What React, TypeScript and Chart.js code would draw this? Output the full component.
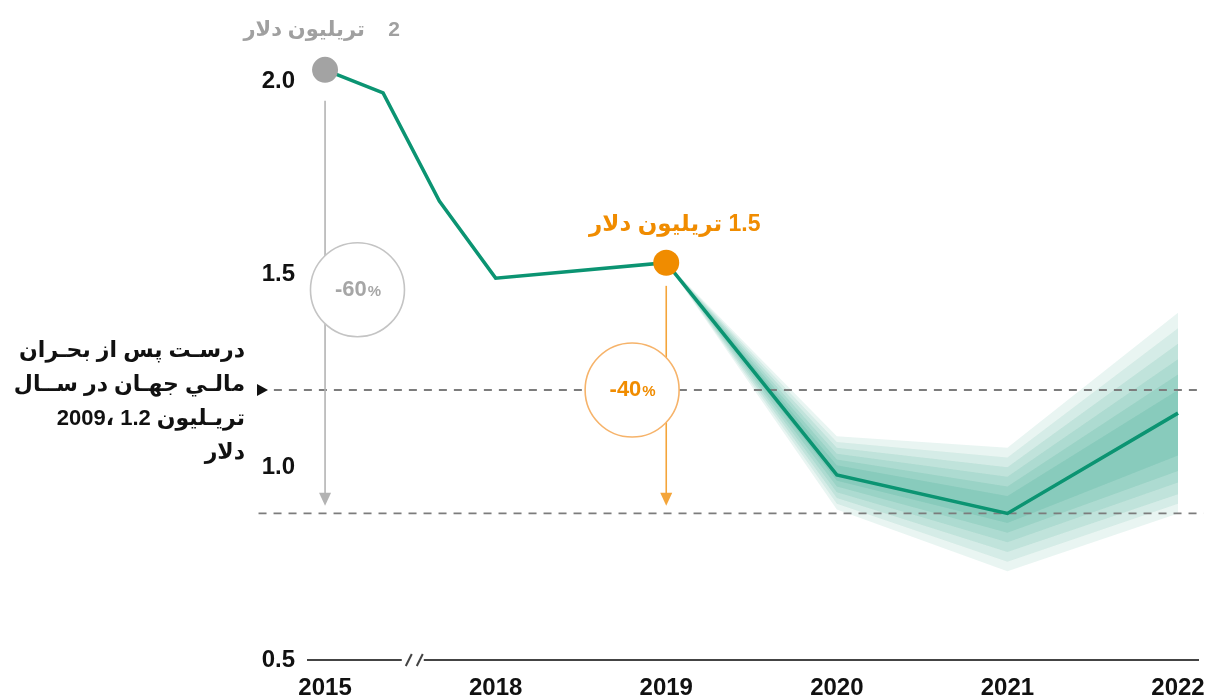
import { useEffect, useRef } from "react";
import { Chart, registerables } from "chart.js";
Chart.register(...registerables);

// ---- data ----
const tickPositions = [0, 1, 2, 3, 4, 5];
const tickYears = ["2015", "2018", "2019", "2020", "2021", "2022"];
const yTickValues = [0.5, 1.0, 1.5, 2.0];

const lineX = [0, 0.34, 0.67, 1, 2, 3, 4, 5];
const lineY = [2.03, 1.97, 1.69, 1.49, 1.53, 0.98, 0.88, 1.14];

const fanX = [2, 3, 4, 5];
const fanUpper1 = [1.53, 1.08, 1.05, 1.40];
const fanLower1 = [1.53, 0.89, 0.73, 0.88];
const fanUpper2 = [1.53, 1.065, 1.025, 1.36];
const fanLower2 = [1.53, 0.905, 0.755, 0.905];
const fanUpper3 = [1.53, 1.05, 1.0, 1.32];
const fanLower3 = [1.53, 0.92, 0.78, 0.93];
const fanUpper4 = [1.53, 1.035, 0.975, 1.28];
const fanLower4 = [1.53, 0.935, 0.805, 0.96];
const fanUpper5 = [1.53, 1.02, 0.95, 1.24];
const fanLower5 = [1.53, 0.95, 0.83, 0.99];
const fanUpper6 = [1.53, 1.005, 0.925, 1.2];
const fanLower6 = [1.53, 0.965, 0.855, 1.03];

const crisisLevel = 1.2;
const floorLevel = 0.88;
const startPoint = { x: 0, y: 2.03 };
const peakPoint = { x: 2, y: 1.53 };

const labelStart = "2    تريليون دلار";
const labelPeak = "1.5 تريليون دلار";
const pctStart = "-60";
const pctPeak = "-40";
const noteLine1 = "درسـت پس از بحـران";
const noteLine2 = "مالـي جهـان در ســال";
const noteLine3Word = "تريـليون";
const noteLine3Nums = "2009، 1.2";
const noteLine4 = "دلار";

const GREEN = "#0b9472";
const ORANGE = "#f08c00";
const GRAY = "#a3a3a3";
const FONT = "'Liberation Sans', Arial, 'DejaVu Sans', sans-serif";

const pts = (xs: number[], ys: number[]) => xs.map((x, i) => ({ x, y: ys[i] }));

export default function App() {
  const ref = useRef<HTMLCanvasElement | null>(null);
  useEffect(() => {
    document.body.style.margin = "0";
    const canvas = ref.current!;
    const fanFill = (a: number) => `rgba(11,148,114,${a})`;
    const layers = [
      [fanUpper1, fanLower1, 0.09],
      [fanUpper2, fanLower2, 0.09],
      [fanUpper3, fanLower3, 0.1],
      [fanUpper4, fanLower4, 0.1],
      [fanUpper5, fanLower5, 0.11],
      [fanUpper6, fanLower6, 0.12],
    ] as [number[], number[], number][];
    const datasets: any[] = [];
    layers.forEach(([up, lo, a]) => {
      datasets.push({
        data: pts(fanX, up), borderWidth: 0, borderColor: "rgba(0,0,0,0)", pointRadius: 0, fill: "+1",
        showLine: true, backgroundColor: fanFill(a), order: 10,
      });
      datasets.push({
        data: pts(fanX, lo), borderWidth: 0, borderColor: "rgba(0,0,0,0)", pointRadius: 0, fill: false,
        showLine: true, order: 10,
      });
    });
    datasets.push({
      data: [{ x: -0.3, y: crisisLevel }, { x: 5.15, y: crisisLevel }],
      borderColor: "#7c7c7c", borderWidth: 1.8, borderDash: [8, 7], pointRadius: 0,
      showLine: true, fill: false, clip: false, order: 5,
    });
    datasets.push({
      data: [{ x: -0.39, y: floorLevel }, { x: 5.15, y: floorLevel }],
      borderColor: "#7c7c7c", borderWidth: 1.8, borderDash: [8, 7], pointRadius: 0,
      showLine: true, fill: false, clip: false, order: 5,
    });
    datasets.push({
      data: pts(lineX, lineY), borderColor: GREEN, borderWidth: 3.5, pointRadius: 0,
      showLine: true, fill: false, tension: 0, order: 3, clip: false,
    });
    datasets.push({
      data: [startPoint], pointRadius: 13, pointBackgroundColor: GRAY,
      pointBorderWidth: 0, showLine: false, order: 1, clip: false,
    });
    datasets.push({
      data: [peakPoint], pointRadius: 13, pointBackgroundColor: ORANGE,
      pointBorderWidth: 0, showLine: false, order: 1, clip: false,
    });

    const annot = {
      id: "annot",
      afterDraw(chart: any) {
        const { ctx, scales } = chart;
        const x = scales.x, y = scales.y;
        const bottom = chart.chartArea.bottom;
        ctx.save();
        // axis break
        const bx = x.getPixelForValue(0.52);
        ctx.fillStyle = "#fff";
        ctx.fillRect(bx - 12, bottom - 4, 22, 8);
        ctx.strokeStyle = "#444";
        ctx.lineWidth = 2;
        [-8, 3].forEach((d) => {
          ctx.beginPath();
          ctx.moveTo(bx + d, bottom + 6);
          ctx.lineTo(bx + d + 6, bottom - 6);
          ctx.stroke();
        });

        // arrows
        const arrow = (xv: number, y0: number, y1: number, col: string) => {
          const px = x.getPixelForValue(xv);
          const p0 = y.getPixelForValue(y0), p1 = y.getPixelForValue(y1);
          ctx.strokeStyle = col; ctx.lineWidth = 1.6;
          ctx.beginPath(); ctx.moveTo(px, p0); ctx.lineTo(px, p1 - 10); ctx.stroke();
          ctx.fillStyle = col;
          ctx.beginPath(); ctx.moveTo(px - 6, p1 - 13); ctx.lineTo(px + 6, p1 - 13); ctx.lineTo(px, p1); ctx.closePath(); ctx.fill();
        };
        arrow(0, 1.95, 0.9, "#b3b3b3");
        arrow(2, 1.47, 0.9, "#f4a53a");

        // circles
        const circle = (xv: number, yv: number, stroke: string, col: string, txt: string) => {
          const cx = x.getPixelForValue(xv), cy = y.getPixelForValue(yv);
          ctx.beginPath(); ctx.arc(cx, cy, 47, 0, Math.PI * 2);
          ctx.fillStyle = "#fff"; ctx.fill();
          ctx.strokeStyle = stroke; ctx.lineWidth = 1.6; ctx.stroke();
          ctx.fillStyle = col;
          ctx.textBaseline = "middle";
          ctx.direction = "ltr";
          ctx.font = `bold 22px ${FONT}`;
          const w1 = ctx.measureText(txt).width;
          ctx.font = `bold 15px ${FONT}`;
          const w2 = ctx.measureText("%").width;
          const sx = cx - (w1 + w2) / 2;
          ctx.textAlign = "left";
          ctx.font = `bold 22px ${FONT}`;
          ctx.fillText(txt, sx, cy);
          ctx.font = `bold 15px ${FONT}`;
          ctx.fillText("%", sx + w1 + 1, cy + 2);
        };
        circle(0.19, 1.46, "#c4c4c4", "#a6a6a6", pctStart);
        circle(1.8, 1.2, "#f6b36a", ORANGE, pctPeak);

        // point labels
        ctx.textAlign = "center";
        ctx.textBaseline = "middle";
        ctx.direction = "rtl";
        ctx.font = `bold 21px ${FONT}`;
        ctx.fillStyle = "#a0a0a0";
        ctx.fillText(labelStart, x.getPixelForValue(-0.02), 30);
        ctx.font = `bold 23px ${FONT}`;
        ctx.fillStyle = ORANGE;
        ctx.fillText(labelPeak, x.getPixelForValue(2.05), 225);

        // crisis marker
        const cyp = y.getPixelForValue(crisisLevel);
        ctx.fillStyle = "#111";
        ctx.beginPath(); ctx.moveTo(257, cyp - 6); ctx.lineTo(268, cyp); ctx.lineTo(257, cyp + 6); ctx.closePath(); ctx.fill();

        // note
        ctx.font = `bold 22px ${FONT}`;
        ctx.fillStyle = "#111";
        ctx.textAlign = "right";
        ctx.direction = "rtl";
        const R = 245;
        ctx.fillText(noteLine1, R, 351);
        ctx.fillText(noteLine2, R, 385);
        ctx.fillText(noteLine3Word, R, 419);
        const ww = ctx.measureText(noteLine3Word).width;
        ctx.direction = "ltr";
        ctx.fillText("\u200E" + noteLine3Nums, R - ww - 6, 419);
        ctx.direction = "rtl";
        ctx.fillText(noteLine4, R, 453);
        ctx.restore();
      },
    };

    const chart = new Chart(canvas, {
      type: "scatter",
      data: { datasets },
      plugins: [annot],
      options: {
        animation: false,
        responsive: false,
        maintainAspectRatio: false,
        layout: { padding: { top: 10, right: 13, left: 0, bottom: 0 } },
        plugins: { legend: { display: false }, tooltip: { enabled: false } },
        elements: { line: { tension: 0 } },
        scales: {
          x: {
            type: "linear", min: -0.1, max: 5.12,
            grid: { display: false, drawTicks: false },
            border: { display: true, color: "#444", width: 2 },
            afterBuildTicks: (s: any) => { s.ticks = tickPositions.map((v) => ({ value: v })); },
            afterFit: (s: any) => { s.height = 40; },
            ticks: {
              padding: 14, color: "#111", font: { family: FONT, size: 24, weight: "bold" },
              callback: (v: any) => { const i = tickPositions.indexOf(Number(v)); return i >= 0 ? tickYears[i] : ""; },
              autoSkip: false, maxRotation: 0,
            },
          },
          y: {
            type: "linear", min: 0.5, max: 2.14,
            grid: { display: false, drawTicks: false },
            border: { display: false },
            afterBuildTicks: (s: any) => { s.ticks = yTickValues.map((v) => ({ value: v })); },
            afterFit: (s: any) => { s.width = 308; },
            ticks: {
              padding: 13, color: "#111", font: { family: FONT, size: 24, weight: "bold" },
              callback: (v: any) => Number(v).toFixed(1),
            },
          },
        },
      } as any,
    });
    return () => chart.destroy();
  }, []);
  return <canvas ref={ref} width={1219} height={700} style={{ display: "block" }} />;
}
